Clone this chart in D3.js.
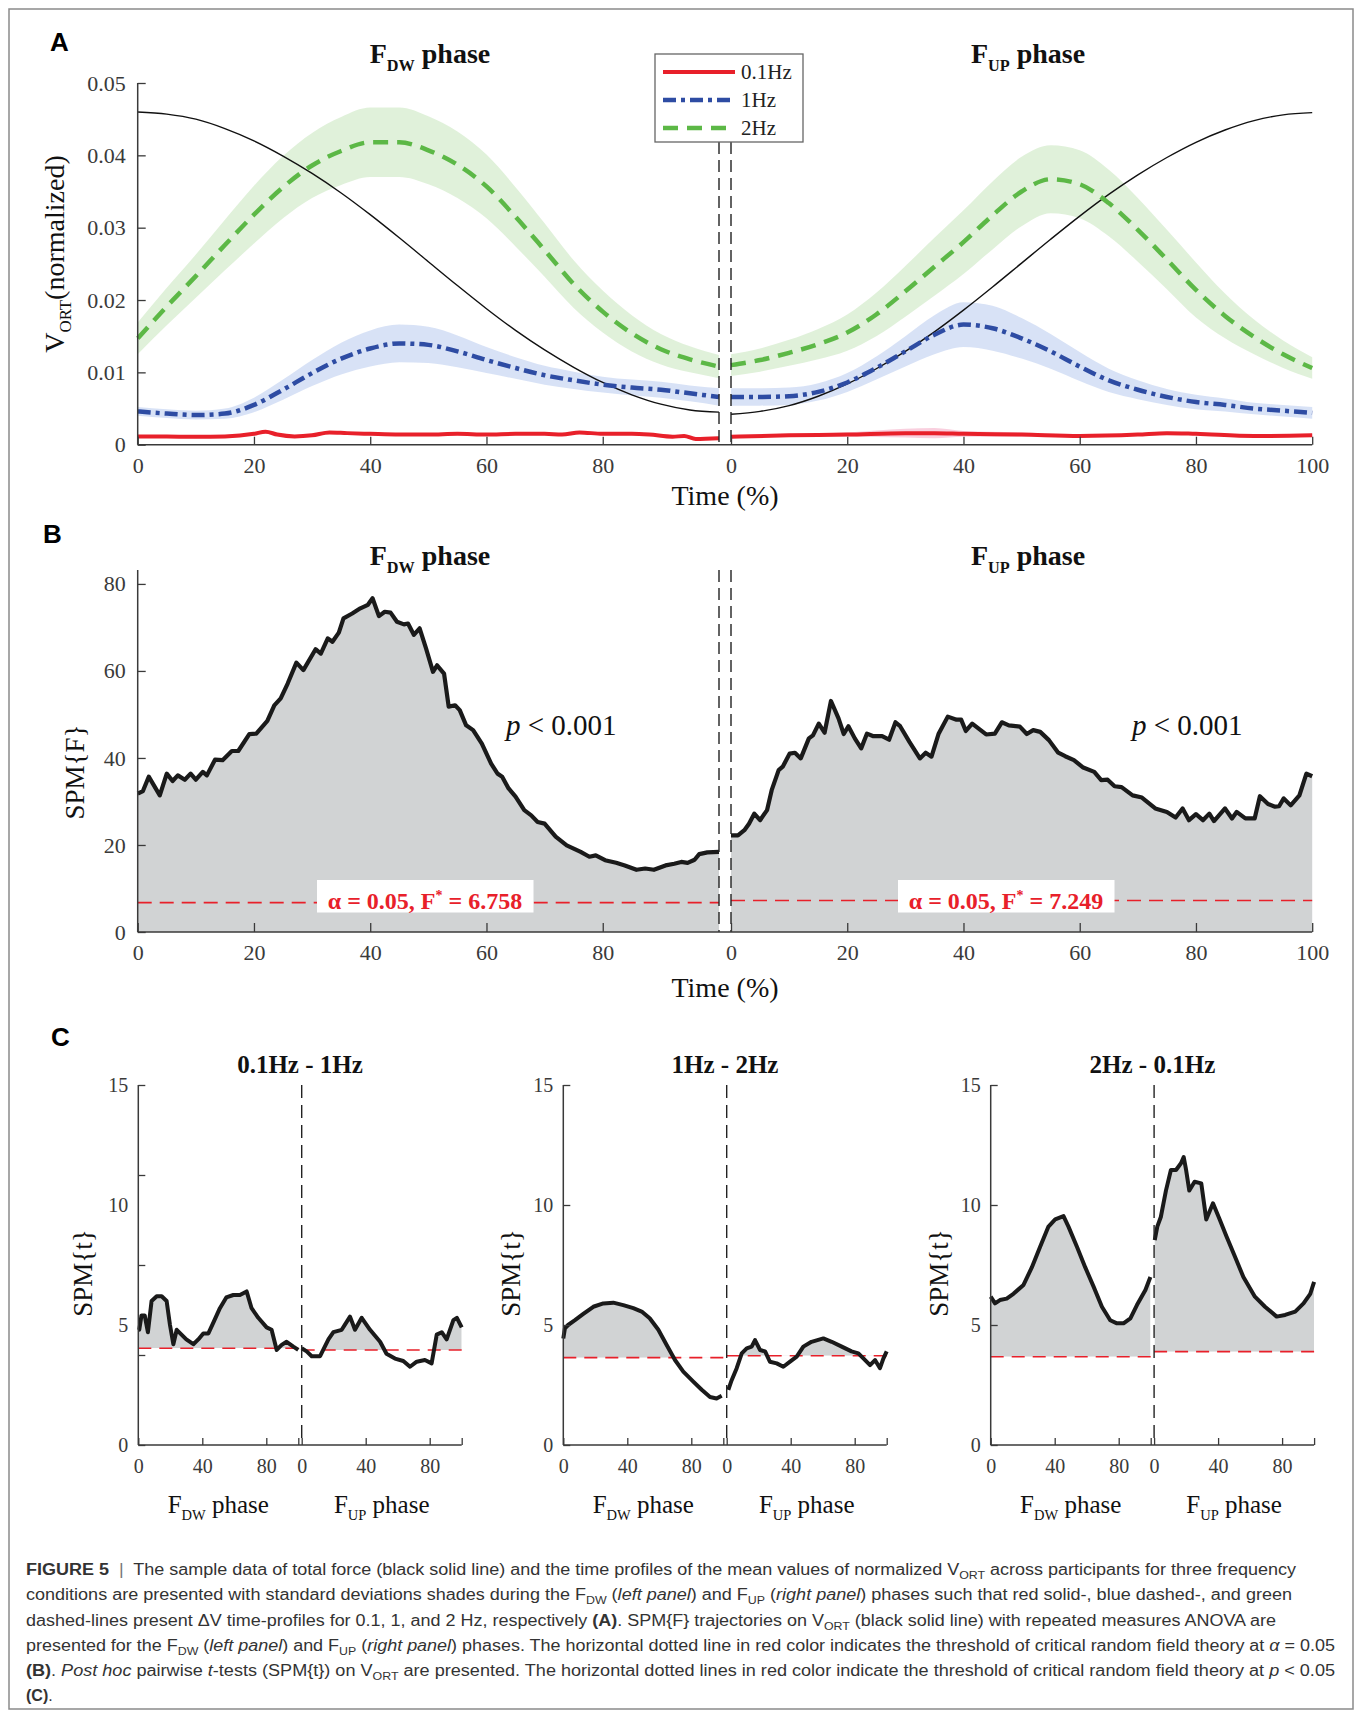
<!doctype html>
<html lang="en">
<head>
<meta charset="utf-8">
<title>figure 5</title>
<script src="https://cdnjs.cloudflare.com/ajax/libs/d3/7.8.5/d3.min.js"></script>
<style>
  body { margin: 0; background: #fff; }
  svg { display: block; }
</style>
</head>
<body>
<svg id="fig" width="1357" height="1713"></svg>
<script>
'use strict';

// ---------- panel A : V_ORT profiles (x = % of phase) ----------
const tA = [0,5,10,15,20,25,30,35,40,45,50,55,60,65,70,75,80,85,90,95,100];
const forceDw = [0.0460,0.0457,0.0450,0.0437,0.0420,0.0399,0.0375,0.0348,0.0318,0.0286,0.0253,0.0220,0.0188,0.0158,0.0131,0.0107,0.0086,0.0069,0.0056,0.0048,0.0045];
const forceUp = [0.0042,0.0046,0.0054,0.0067,0.0084,0.0105,0.0129,0.0156,0.0186,0.0218,0.0251,0.0284,0.0316,0.0346,0.0373,0.0397,0.0418,0.0435,0.0448,0.0456,0.0459];
const hz2Dw   = [0.0147,0.0191,0.0233,0.0276,0.0318,0.0356,0.0386,0.0406,0.0418,0.0418,0.0407,0.0387,0.0357,0.0315,0.0269,0.0222,0.0184,0.0154,0.0132,0.0118,0.0108];
const hz2DwSd = [0.0022,0.0026,0.0030,0.0035,0.0040,0.0043,0.0045,0.0047,0.0048,0.0048,0.0047,0.0046,0.0044,0.0041,0.0037,0.0033,0.0029,0.0025,0.0021,0.0018,0.0016];
const hz2Up   = [0.0110,0.0117,0.0127,0.0139,0.0155,0.0180,0.0212,0.0246,0.0280,0.0317,0.0350,0.0367,0.0360,0.0334,0.0297,0.0256,0.0214,0.0178,0.0149,0.0125,0.0106];
const hz2UpSd = [0.0015,0.0016,0.0018,0.0021,0.0025,0.0030,0.0035,0.0040,0.0044,0.0047,0.0048,0.0047,0.0047,0.0046,0.0044,0.0041,0.0038,0.0031,0.0024,0.0019,0.0015];
const hz1Dw   = [0.0046,0.0043,0.0041,0.0043,0.0055,0.0076,0.0099,0.0119,0.0133,0.0140,0.0138,0.0129,0.0117,0.0106,0.0096,0.0089,0.0083,0.0079,0.0076,0.0071,0.0066];
const hz1DwSd = [0.0006,0.0006,0.0006,0.0007,0.0010,0.0014,0.0018,0.0022,0.0025,0.0026,0.0025,0.0022,0.0018,0.0015,0.0013,0.0012,0.0011,0.0011,0.0011,0.0011,0.0012];
const hz1Up   = [0.0066,0.0066,0.0067,0.0073,0.0086,0.0106,0.0129,0.0152,0.0166,0.0161,0.0147,0.0129,0.0108,0.0089,0.0076,0.0066,0.0059,0.0055,0.0050,0.0047,0.0044];
const hz1UpSd = [0.0012,0.0012,0.0012,0.0012,0.0013,0.0016,0.0021,0.0027,0.0031,0.0031,0.0028,0.0024,0.0020,0.0016,0.0013,0.0011,0.0010,0.0009,0.0008,0.0008,0.0008];
const hz01DwT  = [0,5,10,15,20,22,24,27,30,33,36,40,45,50,55,60,65,70,73,76,80,85,88,92,94,96,100];
const hz01Dw   = [0.00115,0.00112,0.0011,0.00115,0.0015,0.0018,0.0014,0.00115,0.0013,0.0017,0.0016,0.0015,0.0014,0.0014,0.0015,0.0014,0.0015,0.0015,0.0014,0.0017,0.0015,0.0015,0.0014,0.0011,0.0012,0.0008,0.0009];
const hz01DwSd = [0.0002,0.0002,0.0002,0.0002,0.0002,0.0002,0.0002,0.0002,0.0002,0.0002,0.0002,0.0002,0.0002,0.0002,0.0002,0.0002,0.0002,0.0002,0.0002,0.0002,0.0002,0.0002,0.0002,0.0002,0.0002,0.0002,0.0002];
const hz01UpT  = [0,10,20,30,35,40,50,60,70,75,80,90,100];
const hz01Up   = [0.0011,0.0013,0.0014,0.0016,0.0016,0.0015,0.0014,0.0012,0.0014,0.0016,0.0015,0.0012,0.0013];
const hz01UpSd = [0.0002,0.0002,0.0003,0.0006,0.0007,0.0004,0.0003,0.0002,0.0002,0.0002,0.0002,0.0002,0.0002];
const legendLabels = ['0.1Hz', '1Hz', '2Hz'];
const yTicksA = [0, 0.01, 0.02, 0.03, 0.04, 0.05];

// ---------- panel B : SPM{F}, [t, F] ----------
const spmFDw = [[0,31.8],[0.9,32.4],[1.9,35.7],[3.8,31.4],[5,36.4],[6,34.7],[6.9,36],[8.1,35],[9.1,36.4],[10,35],[11.2,36.8],[11.9,36],[13.3,39.6],[14.6,39.5],[16.2,41.6],[17.3,41.6],[19.2,45.5],[20.4,45.6],[22.3,48.5],[23.5,52.1],[24.6,53.7],[25.8,57.1],[27.3,61.9],[28.5,60.2],[30.6,65],[31.5,64],[32.7,67.5],[33.5,66.7],[34.6,68.8],[35.4,72.1],[36.9,73.2],[38.3,74.4],[39.6,75.2],[40.4,76.7],[41.5,72.6],[42.5,73.6],[43.5,73.4],[44.6,71.3],[45.8,70.7],[46.5,70.9],[47.5,68.3],[48.5,69.8],[49.6,65.2],[50.8,59.8],[51.5,61.3],[52.7,59.4],[53.5,51.8],[54.6,52.1],[55.4,51],[56.5,47.5],[57.7,46.4],[59.2,43.3],[60.8,38.7],[61.9,36.4],[62.7,35.7],[63.8,33],[65,31.1],[66.5,28],[67.7,26.8],[68.8,25.3],[70,24.9],[71.9,21.9],[73.8,19.9],[76.2,18.4],[77.7,17.3],[78.8,17.6],[80.4,16.5],[82.3,15.9],[83.8,15.3],[85.8,14.3],[87.3,14.6],[88.8,14.3],[90.8,15.3],[92.3,15.7],[93.5,16.1],[94.6,15.9],[95.8,16.6],[96.6,17.9],[98,18.3],[100,18.4]];
const spmFUp = [[0,22.2],[1.2,22.2],[2.3,23.4],[3.1,24.9],[4,27.2],[5,25.7],[6.2,28],[7,32.6],[8.2,37.2],[8.9,38],[10.1,41],[11,41.2],[12,39.9],[13.4,44.5],[14.1,45.2],[15.1,47.9],[16.1,45.8],[17.2,53.1],[18.5,49.1],[19.4,45.5],[20.2,47.3],[21.3,44.5],[22.4,42.2],[23.4,45.6],[24.5,45],[26,45],[27.2,44.2],[28.3,48.2],[29.1,47.3],[30.7,43.7],[32.5,39.9],[33.5,41.2],[34.5,40.3],[35.7,45.5],[37.3,49.5],[38.8,48.8],[39.6,48.8],[40.4,46.2],[41.5,47.9],[43.9,45.4],[45.4,45.6],[46.6,48.2],[47.8,47.5],[49.7,47.2],[50.9,45.5],[52,46.4],[53.2,46],[54.7,44.1],[56.3,41.2],[57.5,40.4],[59,39.5],[60.6,37.8],[62.5,36.8],[63.7,34.9],[64.8,35],[66,33.5],[67.2,33.3],[69.1,31.4],[70.7,30.9],[73,28.4],[75,27.6],[76.5,26.3],[77.7,28.4],[78.8,25.7],[80,27.1],[81.2,25.7],[82.3,27.2],[83.1,25.5],[85,28.4],[86.2,26.1],[87,27.6],[88.5,26.1],[90.1,26.1],[91,31.2],[92.4,29.4],[93.6,28.8],[94.3,28.9],[95.1,30.7],[96.3,29.1],[97.8,31.4],[99,36.4],[100,35.8]];
const fCrit = [6.758, 7.249];
const yTicksB = [0, 20, 40, 60, 80];
const xTicksDw = [0, 20, 40, 60, 80];
const xTicksUp = [0, 20, 40, 60, 80, 100];

// ---------- panel C : post hoc SPM{t}, [t, value] ----------
const pairTitles = ['0.1Hz - 1Hz', '1Hz - 2Hz', '2Hz - 0.1Hz'];
const tDw = [
  [[0,4.8],[0.6,4.8],[2,5.4],[4,5.4],[6,4.7],[8.3,6.0],[11.5,6.2],[14.6,6.2],[17.7,6.0],[19.8,5.0],[21.9,4.2],[24,4.8],[27,4.6],[30,4.4],[34.4,4.2],[37.5,4.4],[40.6,4.65],[43.8,4.65],[46.9,5.1],[51,5.7],[55,6.15],[59.4,6.25],[63.5,6.25],[67.7,6.4],[70.8,5.7],[75,5.3],[80.2,4.9],[83.3,4.8],[86.5,3.96],[89.6,4.17],[92.7,4.3],[96.9,4.1],[100,3.96]],
  [[0,4.44],[1,4.86],[3,5.0],[7.3,5.2],[12.5,5.46],[18.75,5.76],[25,5.9],[31.25,5.93],[37.5,5.83],[43.75,5.7],[49,5.56],[54,5.28],[59.4,4.8],[64.6,4.17],[69.8,3.54],[75,3.06],[81.25,2.64],[86.5,2.3],[91.7,2.0],[95.8,1.94],[99,2.05]],
  [[0,6.18],[2.7,5.9],[5.8,6.04],[10,6.1],[14.2,6.3],[20.5,6.67],[25.7,7.4],[30.9,8.26],[36.1,9.1],[40.3,9.4],[45.5,9.54],[48.6,9.1],[53.9,8.26],[59.1,7.4],[64.3,6.6],[69.5,5.76],[74.7,5.2],[78.9,5.07],[83,5.07],[87.3,5.28],[91.4,5.83],[96.7,6.46],[99.8,7.0]]
];
const tUp = [
  [[0,4.03],[3.1,3.9],[6.25,3.7],[11.5,3.7],[16.7,4.4],[19.8,4.7],[25,4.8],[30.2,5.35],[33.3,4.8],[37.5,5.3],[42.7,4.8],[49,4.3],[53,3.8],[58.3,3.6],[63.5,3.5],[67.7,3.26],[71.9,3.47],[77,3.54],[81.2,3.4],[84.4,4.6],[87.5,4.7],[90.6,4.4],[94.8,5.2],[97,5.3],[100,4.9]],
  [[1,2.3],[3.1,2.7],[6.25,3.2],[9.4,3.82],[12.5,4.03],[15.6,4.1],[17.7,4.37],[20.8,3.96],[24,3.9],[27,3.47],[31.25,3.4],[35.4,3.26],[39.6,3.47],[43.75,3.68],[47.9,4.1],[53,4.3],[60.4,4.44],[65.6,4.3],[71.9,4.1],[78,3.9],[82.3,3.82],[86.5,3.54],[89.6,3.33],[92.7,3.54],[95.8,3.2],[97.9,3.6],[100,3.9]],
  [[0.4,8.54],[2,9.1],[4.2,9.5],[7.4,10.6],[10.5,11.46],[13.7,11.46],[16.8,11.74],[18.5,12.0],[20,11.46],[22,10.6],[25.3,10.97],[29.5,10.9],[32.6,9.4],[36.8,10.07],[41,9.4],[45.2,8.7],[50.5,7.85],[55.8,7.0],[63,6.18],[69.3,5.76],[76.6,5.35],[81.9,5.42],[88.2,5.56],[93.4,5.9],[97.6,6.3],[100,6.8]]
];
const tCrit = [[4.03, 3.96], [3.64, 3.72], [3.68, 3.89]];
const yLabelsC = [0, 5, 10, 15];
const yMarksC = [[0, 3.75, 7.5, 11.25, 15], [0, 5, 10, 15], [0, 5, 10, 15]];
const xTicksC = [0, 40, 80, 100];

// ---------- caption ----------
const captionLines = [
  [['FIGURE 5','b'],['  |  ','sep'],['The sample data of total force (black solid line) and the time profiles of the mean values of normalized V','n'],['ORT','sub'],[' across participants for three frequency','n']],
  [['conditions are presented with standard deviations shades during the F','n'],['DW','sub'],[' (','n'],['left panel','i'],[') and F','n'],['UP','sub'],[' (','n'],['right panel','i'],[') phases such that red solid-, blue dashed-, and green','n']],
  [['dashed-lines present \u0394V time-profiles for 0.1, 1, and 2 Hz, respectively ','n'],['(A)','b'],['. SPM{F} trajectories on V','n'],['ORT','sub'],[' (black solid line) with repeated measures ANOVA are','n']],
  [['presented for the F','n'],['DW','sub'],[' (','n'],['left panel','i'],[') and F','n'],['UP','sub'],[' (','n'],['right panel','i'],[') phases. The horizontal dotted line in red color indicates the threshold of critical random field theory at ','n'],['\u03b1','i'],[' = 0.05','n']],
  [['(B)','b'],['. ','n'],['Post hoc','i'],[' pairwise ','n'],['t','i'],['-tests (SPM{t}) on V','n'],['ORT','sub'],[' are presented. The horizontal dotted lines in red color indicate the threshold of critical random field theory at ','n'],['p','i'],[' < 0.05','n']],
  [['(C)','b'],['.','n']]
];

const SERIF = '"Liberation Serif", "Times New Roman", serif';
const SANS = '"Liberation Sans", Arial, sans-serif';
const INK = '#3a3a3a';
const RED = '#e8202a';
const GRAYFILL = '#d1d3d4';
const styles = {
  hz01: {color: '#e8202a', width: 4, dash: null},
  hz1:  {color: '#2e4ca3', width: 4.5, dash: '13,5,4,5'},
  hz2:  {color: '#5cb846', width: 4.5, dash: '15,9'}
};

const svg = d3.select('#fig');
svg.append('rect').attr('width', 1357).attr('height', 1713).attr('fill', '#fff');
svg.append('rect').attr('x', 9).attr('y', 9).attr('width', 1344).attr('height', 1700)
  .attr('fill', 'none').attr('stroke', '#8a8a8a').attr('stroke-width', 1.5);

function styleAxis(g, size) {
  g.attr('font-family', SERIF).attr('font-size', size);
  g.selectAll('text').attr('fill', INK);
  g.selectAll('line').attr('stroke', INK).attr('stroke-width', 1.3);
  g.select('.domain').remove();
}

function phaseLabel(g, x, y, sub, size, bold) {
  const t = g.append('text').attr('x', x).attr('y', y).attr('text-anchor', 'middle')
    .attr('font-family', SERIF).attr('font-size', size)
    .attr('font-weight', bold ? 'bold' : 'normal').attr('fill', '#111');
  t.append('tspan').text('F');
  t.append('tspan').attr('dy', size * 0.28).attr('font-size', size * 0.58).text(sub);
  t.append('tspan').attr('dy', -size * 0.28).text(' phase');
}

function panelLetter(x, y, s) {
  svg.append('text').attr('x', x).attr('y', y).attr('font-family', SANS)
    .attr('font-weight', 'bold').attr('font-size', 26).attr('fill', '#000').text(s);
}

function vDash(g, x, y0, y1, dash) {
  g.append('line').attr('x1', x).attr('x2', x).attr('y1', y0).attr('y2', y1)
    .attr('stroke', '#222').attr('stroke-width', 1.4).attr('stroke-dasharray', dash);
}

function vertLabel(g, x, y, size, parts) {
  const t = g.append('text').attr('transform', `translate(${x},${y}) rotate(-90)`)
    .attr('text-anchor', 'middle').attr('font-family', SERIF).attr('font-size', size).attr('fill', '#111');
  parts.forEach(([s, sub]) => {
    const sp = t.append('tspan').text(s);
    if (sub) sp.attr('font-size', size * 0.6).attr('dy', size * 0.25);
    else if (t.selectAll('tspan').size() > 1) sp.attr('dy', -size * 0.25);
  });
}

// ================= PANEL A =================
const aX = {
  dw: d3.scaleLinear().domain([0, 100]).range([137.7, 719]),
  up: d3.scaleLinear().domain([0, 100]).range([731, 1312.2])
};
const aY = d3.scaleLinear().domain([0, 0.05]).range([444.7, 83]);
const gA = svg.append('g');

function band(x, ts, m, sd, fill, op) {
  gA.append('path').datum(ts.map((t, i) => [t, m[i], sd[i]]))
    .attr('d', d3.area().x(d => x(d[0])).y0(d => aY(d[1] - d[2])).y1(d => aY(d[1] + d[2])).curve(d3.curveMonotoneX))
    .attr('fill', fill).attr('fill-opacity', op);
}
function meanLine(x, ts, m, st) {
  gA.append('path').datum(ts.map((t, i) => [t, m[i]]))
    .attr('d', d3.line().x(d => x(d[0])).y(d => aY(d[1])).curve(d3.curveMonotoneX))
    .attr('fill', 'none').attr('stroke', st.color).attr('stroke-width', st.width)
    .attr('stroke-dasharray', st.dash);
}

band(aX.dw, tA, hz2Dw, hz2DwSd, '#63b946', 0.2);
band(aX.up, tA, hz2Up, hz2UpSd, '#63b946', 0.2);
band(aX.dw, tA, hz1Dw, hz1DwSd, '#3a6fd0', 0.2);
band(aX.up, tA, hz1Up, hz1UpSd, '#3a6fd0', 0.2);
band(aX.dw, hz01DwT, hz01Dw, hz01DwSd, '#e8407a', 0.25);
band(aX.up, hz01UpT, hz01Up, hz01UpSd, '#e8407a', 0.25);
meanLine(aX.dw, tA, forceDw, {color: '#111', width: 1.4, dash: null});
meanLine(aX.up, tA, forceUp, {color: '#111', width: 1.4, dash: null});
meanLine(aX.dw, hz01DwT, hz01Dw, styles.hz01);
meanLine(aX.up, hz01UpT, hz01Up, styles.hz01);
meanLine(aX.dw, tA, hz1Dw, styles.hz1);
meanLine(aX.up, tA, hz1Up, styles.hz1);
meanLine(aX.dw, tA, hz2Dw, styles.hz2);
meanLine(aX.up, tA, hz2Up, styles.hz2);

vDash(gA, aX.dw(100), 142, aY(0), '12,6');
vDash(gA, aX.up(0), 142, aY(0), '12,6');

gA.append('line').attr('x1', aX.dw(0)).attr('x2', aX.up(100)).attr('y1', aY(0)).attr('y2', aY(0))
  .attr('stroke', INK).attr('stroke-width', 1.5);
gA.append('line').attr('x1', aX.dw(0)).attr('x2', aX.dw(0)).attr('y1', aY(0)).attr('y2', aY(0.05))
  .attr('stroke', INK).attr('stroke-width', 1.5);
gA.append('g').attr('transform', `translate(0,${aY(0)})`)
  .call(d3.axisBottom(aX.dw).tickValues(xTicksDw).tickFormat(d3.format('d')).tickSizeInner(-8).tickSizeOuter(0).tickPadding(13))
  .call(g => styleAxis(g, 22));
gA.append('g').attr('transform', `translate(0,${aY(0)})`)
  .call(d3.axisBottom(aX.up).tickValues(xTicksUp).tickFormat(d3.format('d')).tickSizeInner(-8).tickSizeOuter(0).tickPadding(13))
  .call(g => styleAxis(g, 22));
gA.append('g').attr('transform', `translate(${aX.dw(0)},0)`)
  .call(d3.axisLeft(aY).tickValues(yTicksA).tickFormat(d => d === 0 ? '0' : d3.format('.2f')(d)).tickSizeInner(-8).tickSizeOuter(0).tickPadding(12))
  .call(g => styleAxis(g, 22));

phaseLabel(gA, 430, 63, 'DW', 28, true);
phaseLabel(gA, 1028, 63, 'UP', 28, true);
gA.append('text').attr('x', 725).attr('y', 505).attr('text-anchor', 'middle').attr('font-family', SERIF)
  .attr('font-size', 28).attr('fill', '#111').text('Time (%)');
vertLabel(gA, 64, 254, 28, [['V', false], ['ORT', true], ['(normalized)', false]]);

// legend
const leg = gA.append('g');
leg.append('rect').attr('x', 655).attr('y', 54).attr('width', 148).attr('height', 88)
  .attr('fill', '#fff').attr('stroke', '#666').attr('stroke-width', 1.3);
[styles.hz01, styles.hz1, styles.hz2].forEach((st, i) => {
  const y = 72 + i * 28;
  leg.append('line').attr('x1', 663).attr('x2', 735).attr('y1', y).attr('y2', y)
    .attr('stroke', st.color).attr('stroke-width', st.width).attr('stroke-dasharray', st.dash);
  leg.append('text').attr('x', 741).attr('y', y + 7).attr('font-family', SERIF).attr('font-size', 21)
    .attr('fill', '#222').text(legendLabels[i]);
});

// ================= PANEL B =================
const bY = d3.scaleLinear().domain([0, 83.2]).range([932, 570]);
const gB = svg.append('g');
[[aX.dw, spmFDw], [aX.up, spmFUp]].forEach(([x, data], k) => {
  gB.append('path').datum(data)
    .attr('d', d3.area().x(d => x(d[0])).y0(bY(0)).y1(d => bY(d[1])))
    .attr('fill', GRAYFILL);
  gB.append('line').attr('x1', x(0)).attr('x2', x(100)).attr('y1', bY(fCrit[k])).attr('y2', bY(fCrit[k]))
    .attr('stroke', RED).attr('stroke-width', 1.6).attr('stroke-dasharray', '14,8');
  gB.append('path').datum(data)
    .attr('d', d3.line().x(d => x(d[0])).y(d => bY(d[1])))
    .attr('fill', 'none').attr('stroke', '#1a1a1a').attr('stroke-width', 4.2).attr('stroke-linejoin', 'round');
});
// threshold labels
[[317, 425, 0], [898, 1006, 1]].forEach(([bx, cx, k]) => {
  gB.append('rect').attr('x', bx).attr('y', 880).attr('width', 216.5).attr('height', 32.5).attr('fill', '#fff');
  const t = gB.append('text').attr('x', cx).attr('y', 909).attr('text-anchor', 'middle')
    .attr('font-family', SERIF).attr('font-weight', 'bold').attr('font-size', 24).attr('fill', RED);
  t.append('tspan').text('\u03b1 = 0.05, F');
  t.append('tspan').attr('font-size', 14).attr('dy', -9).text('*');
  t.append('tspan').attr('dy', 9).text(' = ' + d3.format('.3f')(fCrit[k]));
});
// p-values
[[506], [1132]].forEach(([x]) => {
  const t = gB.append('text').attr('x', x).attr('y', 735).attr('font-family', SERIF)
    .attr('font-size', 29).attr('fill', '#111');
  t.append('tspan').attr('font-style', 'italic').text('p');
  t.append('tspan').text(' < 0.001');
});

vDash(gB, aX.dw(100), 570, bY(0), '12,6');
vDash(gB, aX.up(0), 570, bY(0), '12,6');
gB.append('line').attr('x1', aX.dw(0)).attr('x2', aX.up(100)).attr('y1', bY(0)).attr('y2', bY(0))
  .attr('stroke', INK).attr('stroke-width', 1.5);
gB.append('line').attr('x1', aX.dw(0)).attr('x2', aX.dw(0)).attr('y1', bY(0)).attr('y2', bY(83.2))
  .attr('stroke', INK).attr('stroke-width', 1.5);
gB.append('g').attr('transform', `translate(0,${bY(0)})`)
  .call(d3.axisBottom(aX.dw).tickValues(xTicksDw).tickFormat(d3.format('d')).tickSizeInner(-9).tickSizeOuter(0).tickPadding(12.5))
  .call(g => styleAxis(g, 22));
gB.append('g').attr('transform', `translate(0,${bY(0)})`)
  .call(d3.axisBottom(aX.up).tickValues(xTicksUp).tickFormat(d3.format('d')).tickSizeInner(-9).tickSizeOuter(0).tickPadding(12.5))
  .call(g => styleAxis(g, 22));
gB.append('g').attr('transform', `translate(${aX.dw(0)},0)`)
  .call(d3.axisLeft(bY).tickValues(yTicksB).tickFormat(d3.format('d')).tickSizeInner(-8).tickSizeOuter(0).tickPadding(12))
  .call(g => styleAxis(g, 22));

phaseLabel(gB, 430, 565, 'DW', 28, true);
phaseLabel(gB, 1028, 565, 'UP', 28, true);
gB.append('text').attr('x', 725).attr('y', 997).attr('text-anchor', 'middle').attr('font-family', SERIF)
  .attr('font-size', 28).attr('fill', '#111').text('Time (%)');
vertLabel(gB, 84, 772, 27, [['SPM{F}', false]]);

// ================= PANEL C =================
const cAxisX = [138.3, 563.3, 990.7];
const cLabelX = [92, 520, 948];
const cY = d3.scaleLinear().domain([0, 15]).range([1445, 1085]);
cAxisX.forEach((ax, i) => {
  const g = svg.append('g');
  const xs = [
    d3.scaleLinear().domain([0, 100]).range([ax, ax + 160]),
    d3.scaleLinear().domain([0, 100]).range([ax + 163.4, ax + 323.4])
  ];
  [tDw[i], tUp[i]].forEach((data, k) => {
    const x = xs[k];
    const thr = tCrit[i][k];
    const clipId = `clip-${i}-${k}`;
    g.append('clipPath').attr('id', clipId).append('rect')
      .attr('x', x(0)).attr('y', cY(15) - 20).attr('width', x(100) - x(0)).attr('height', cY(thr) - cY(15) + 20);
    g.append('path').datum(data)
      .attr('d', d3.area().x(d => x(d[0])).y0(cY(thr)).y1(d => cY(d[1])))
      .attr('fill', GRAYFILL).attr('clip-path', `url(#${clipId})`);
    g.append('line').attr('x1', x(0)).attr('x2', x(100)).attr('y1', cY(thr)).attr('y2', cY(thr))
      .attr('stroke', RED).attr('stroke-width', 1.6).attr('stroke-dasharray', '13,8');
    g.append('path').datum(data)
      .attr('d', d3.line().x(d => x(d[0])).y(d => cY(d[1])))
      .attr('fill', 'none').attr('stroke', '#1a1a1a').attr('stroke-width', 4).attr('stroke-linejoin', 'round');
    g.append('g').attr('transform', `translate(0,${cY(0)})`)
      .call(d3.axisBottom(x).tickValues(xTicksC).tickFormat(d => d === 100 ? '' : d).tickSizeInner(-7).tickSizeOuter(0).tickPadding(14))
      .call(a => styleAxis(a, 20));
    phaseLabel(g, x(50), 1513, k === 0 ? 'DW' : 'UP', 25, false);
  });
  vDash(g, xs[1](0), cY(15), cY(0), '13,7');
  g.append('line').attr('x1', ax).attr('x2', xs[1](100)).attr('y1', cY(0)).attr('y2', cY(0))
    .attr('stroke', INK).attr('stroke-width', 1.5);
  g.append('line').attr('x1', ax).attr('x2', ax).attr('y1', cY(0)).attr('y2', cY(15))
    .attr('stroke', INK).attr('stroke-width', 1.5);
  g.append('g').attr('transform', `translate(${ax},0)`)
    .call(d3.axisLeft(cY).tickValues(yMarksC[i]).tickFormat('').tickSizeInner(-7).tickSizeOuter(0))
    .call(a => styleAxis(a, 20));
  g.append('g').attr('transform', `translate(${ax},0)`)
    .call(d3.axisLeft(cY).tickValues(yLabelsC).tickFormat(d3.format('d')).tickSize(0).tickPadding(10))
    .call(a => styleAxis(a, 20));
  g.append('text').attr('x', ax + 161.7).attr('y', 1073).attr('text-anchor', 'middle')
    .attr('font-family', SERIF).attr('font-weight', 'bold').attr('font-size', 25).attr('fill', '#111')
    .text(pairTitles[i]);
  vertLabel(g, cLabelX[i], 1273, 27, [['SPM{t}', false]]);
});

panelLetter(50, 51, 'A');
panelLetter(43, 543, 'B');
panelLetter(51, 1046, 'C');

// ================= CAPTION =================
const capBase = [1575, 1600, 1625.5, 1650.5, 1675.5, 1700.5];
const capWidth = [1270, 1266, 1250, 1309, 1309, null];
const cap = svg.append('g').attr('font-family', SANS).attr('font-size', 16).attr('fill', '#333');
captionLines.forEach((segs, li) => {
  const t = cap.append('text').attr('x', 26).attr('y', capBase[li]).attr('xml:space', 'preserve');
  if (capWidth[li]) t.attr('textLength', capWidth[li]).attr('lengthAdjust', 'spacingAndGlyphs');
  let shift = 0;
  segs.forEach(([s, k]) => {
    const sp = t.append('tspan').text(s);
    if (k === 'sub') {
      sp.attr('font-size', 11).attr('dy', 4);
      shift = 4;
      return;
    }
    if (shift) { sp.attr('dy', -shift); shift = 0; }
    if (k === 'b') sp.attr('font-weight', 'bold');
    if (k === 'i') sp.attr('font-style', 'italic');
    if (k === 'sep') sp.attr('fill', '#777');
  });
});
</script>
</body>
</html>
